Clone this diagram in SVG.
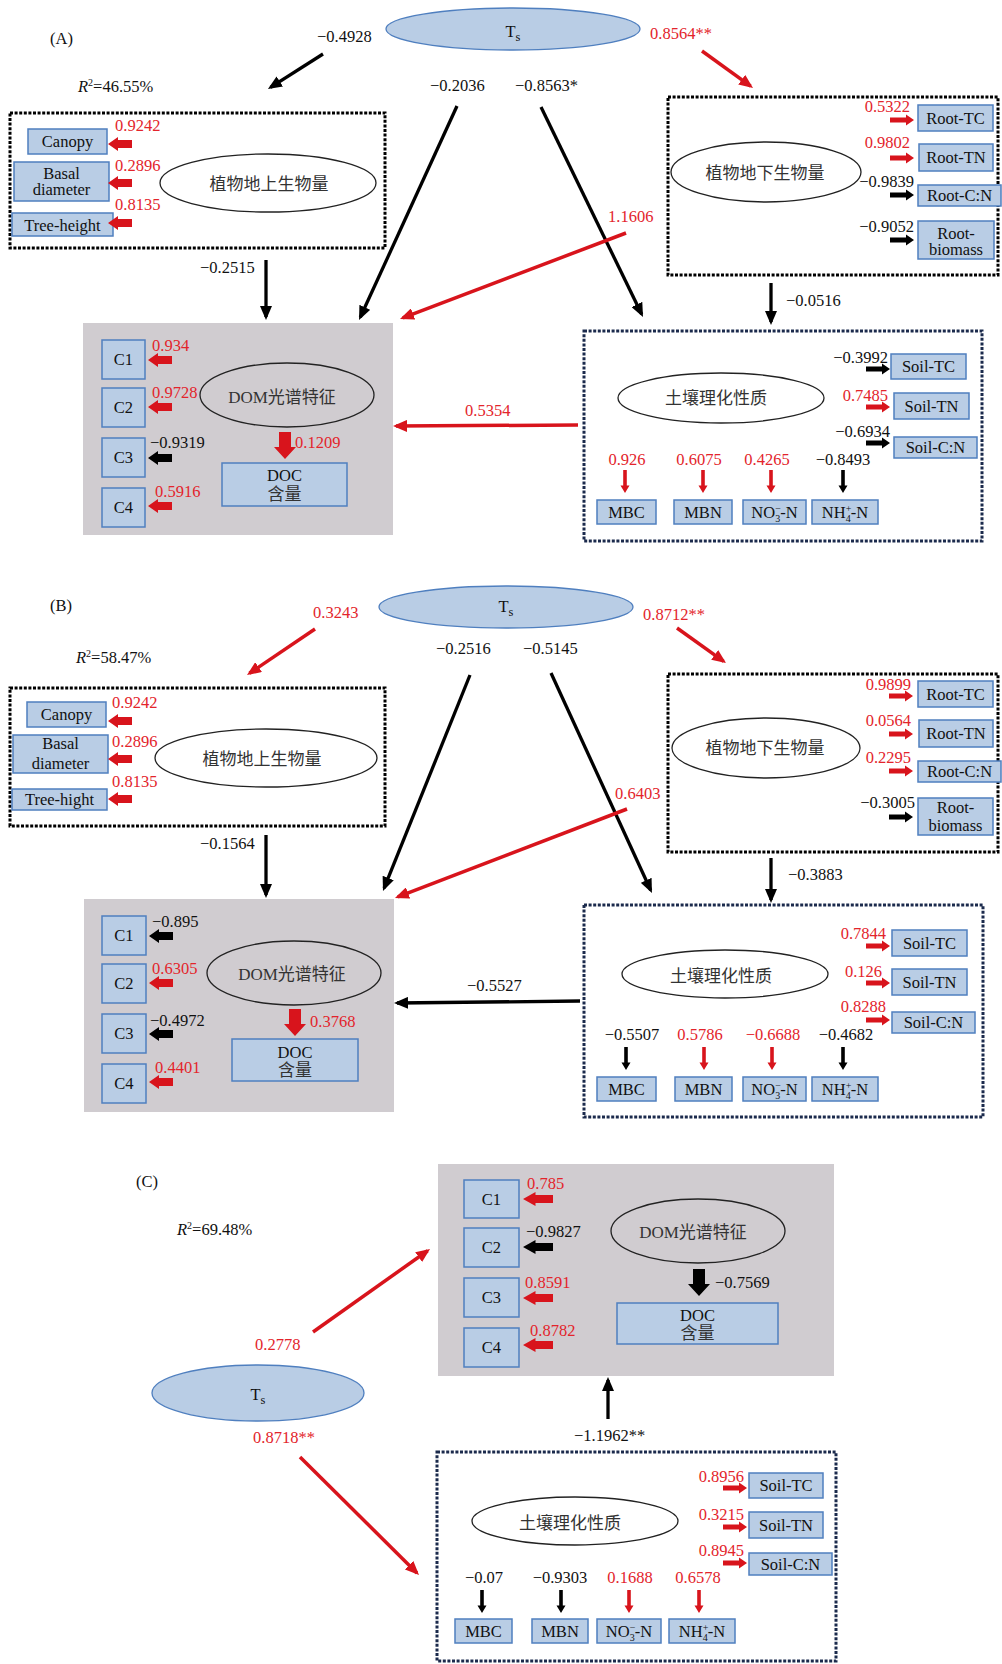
<svg xmlns="http://www.w3.org/2000/svg" xmlns:xlink="http://www.w3.org/1999/xlink" width="1002" height="1664" viewBox="0 0 1002 1664">
<style>
  text { font-family: "Liberation Serif", "Noto Sans CJK SC", serif; font-size: 16.5px; fill: #111; }
  .r { fill: #e3242b; }
  .cjk { font-size: 17px; fill: #333; }
  .m { text-anchor: middle; }
  .e { text-anchor: end; }
  .box { fill: #b9cde5; stroke: #4f7fbf; stroke-width: 1.5; }
  .gray { fill: #d0ccd0; }
  .dotk { fill: none; stroke: #000; stroke-width: 3; stroke-dasharray: 3 1.6; }
  .dotn { fill: none; stroke: #1b2a4c; stroke-width: 3; stroke-dasharray: 3 1.6; }
  .lv { fill: none; stroke: #222; stroke-width: 1.3; }
  .ts { fill: #b9cde5; stroke: #4f7fbf; stroke-width: 1.3; }
  .ck { fill: none; stroke: #000; stroke-width: 3.3; marker-end: url(#hk); }
  .cr { fill: none; stroke: #d8141c; stroke-width: 3.5; marker-end: url(#hr); }
  .fr { fill: #d8141c; }
  .fk { fill: #000; }
</style>
<defs>
  <marker id="hk" markerUnits="userSpaceOnUse" markerWidth="14" markerHeight="12" viewBox="0 0 14 12" refX="11" refY="6" orient="auto"><path d="M0,0 L14,6 L0,12 Z" fill="#000"/></marker>
  <marker id="hr" markerUnits="userSpaceOnUse" markerWidth="14" markerHeight="12" viewBox="0 0 14 12" refX="11" refY="6" orient="auto"><path d="M0,0 L14,6 L0,12 Z" fill="#d8141c"/></marker>
  <!-- block arrows, tip at origin -->
  <path id="bl" d="M0,0 L10,-7 L10,-4 L24,-4 L24,4 L10,4 L10,7 Z"/>
  <path id="br" d="M0,0 L-8,-5.5 L-8,-2.5 L-24,-2.5 L-24,2.5 L-8,2.5 L-8,5.5 Z"/>
  <path id="bd" d="M0,0 L-4.5,-7.5 L-1.8,-7.5 L-1.8,-23 L1.8,-23 L1.8,-7.5 L4.5,-7.5 Z"/>
  <path id="bD" d="M0,0 L-11,-12 L-6,-12 L-6,-27 L6,-27 L6,-12 L11,-12 Z"/>
</defs>
<rect width="1002" height="1664" fill="#fff"/>

<!-- ===================== Panel A ===================== -->
<text x="50" y="44">(A)</text>
<text x="78" y="92"><tspan font-style="italic">R</tspan><tspan dy="-6" font-size="10">2</tspan><tspan dy="6">=46.55%</tspan></text>

<g id="a-connectors">
  <line class="ck" x1="323" y1="54" x2="270.5" y2="87.4"/>
  <line class="cr" x1="702" y1="51" x2="750.6" y2="86.2"/>
  <line class="ck" x1="457" y1="106" x2="360.3" y2="317.3"/>
  <line class="ck" x1="541" y1="107" x2="641.7" y2="314.3"/>
  <line class="cr" x1="626" y1="233" x2="402.8" y2="317.9"/>
  <line class="ck" x1="266" y1="260" x2="266" y2="317"/>
  <line class="ck" x1="771" y1="283" x2="771" y2="322"/>
  <line class="cr" x1="578" y1="425" x2="396" y2="426"/>
  <text x="317" y="42">−0.4928</text>
  <text x="650" y="39" class="r">0.8564**</text>
  <text x="430" y="91">−0.2036</text>
  <text x="515" y="91">−0.8563*</text>
  <text x="608" y="222" class="r">1.1606</text>
  <text x="200" y="273">−0.2515</text>
  <text x="786" y="306">−0.0516</text>
  <text x="465" y="416" class="r">0.5354</text>
</g>

<g id="a-ts">
  <ellipse class="ts" cx="513" cy="29" rx="127" ry="21"/>
  <text x="513" y="37" class="m">T<tspan dy="4" font-size="12.5">s</tspan></text>
</g>

<g id="a-above">
  <rect class="dotk" x="10" y="113" width="375" height="135"/>
  <ellipse class="lv" cx="268" cy="183" rx="108" ry="29"/>
  <text x="269" y="190" class="m cjk">植物地上生物量</text>
  <rect class="box" x="28" y="129" width="79" height="25"/>
  <text x="67.5" y="147" class="m">Canopy</text>
  <rect class="box" x="14" y="162" width="95" height="39"/>
  <text x="61.5" y="178.5" class="m">Basal</text>
  <text x="61.5" y="194.5" class="m">diameter</text>
  <rect class="box" x="12" y="213" width="101" height="23"/>
  <text x="62.5" y="230.5" class="m">Tree-height</text>
  <use href="#bl" x="108" y="144" class="fr"/>
  <use href="#bl" x="108" y="183" class="fr"/>
  <use href="#bl" x="108" y="223" class="fr"/>
  <text x="115" y="131" class="r">0.9242</text>
  <text x="115" y="171" class="r">0.2896</text>
  <text x="115" y="210" class="r">0.8135</text>
</g>

<g id="a-below">
  <rect class="dotk" x="668" y="97" width="330" height="178"/>
  <ellipse class="lv" cx="766" cy="172" rx="95" ry="30"/>
  <text x="765" y="179" class="m cjk">植物地下生物量</text>
  <rect class="box" x="918" y="105" width="75" height="26"/>
  <text x="955.5" y="123.5" class="m">Root-TC</text>
  <rect class="box" x="919" y="144" width="74" height="27"/>
  <text x="956" y="163" class="m">Root-TN</text>
  <rect class="box" x="918" y="185" width="83" height="21"/>
  <text x="959.5" y="201" class="m">Root-C:N</text>
  <rect class="box" x="918" y="221" width="76" height="38"/>
  <text x="956" y="238.5" class="m">Root-</text>
  <text x="956" y="254.5" class="m">biomass</text>
  <use href="#br" x="914" y="120" class="fr"/>
  <use href="#br" x="914" y="158" class="fr"/>
  <use href="#br" x="914" y="195" class="fk"/>
  <use href="#br" x="914" y="240" class="fk"/>
  <text x="910" y="112" class="e r">0.5322</text>
  <text x="910" y="148" class="e r">0.9802</text>
  <text x="914" y="187" class="e">−0.9839</text>
  <text x="914" y="232" class="e">−0.9052</text>
</g>

<g id="a-dom">
  <rect class="gray" x="83" y="323" width="310" height="212"/>
  <rect class="box" x="102" y="340" width="43" height="39"/>
  <text x="123.5" y="365" class="m">C1</text>
  <rect class="box" x="102" y="388" width="43" height="39"/>
  <text x="123.5" y="413" class="m">C2</text>
  <rect class="box" x="102" y="438" width="43" height="39"/>
  <text x="123.5" y="463" class="m">C3</text>
  <rect class="box" x="102" y="488" width="43" height="39"/>
  <text x="123.5" y="513" class="m">C4</text>
  <use href="#bl" x="148" y="360" class="fr"/>
  <use href="#bl" x="148" y="407" class="fr"/>
  <use href="#bl" x="148" y="458" class="fk"/>
  <use href="#bl" x="148" y="506" class="fr"/>
  <text x="152" y="351" class="r">0.934</text>
  <text x="152" y="398" class="r">0.9728</text>
  <text x="150" y="448">−0.9319</text>
  <text x="155" y="497" class="r">0.5916</text>
  <ellipse class="lv" cx="287" cy="395" rx="87" ry="32"/>
  <text x="282" y="403" class="m cjk">DOM光谱特征</text>
  <use href="#bD" x="285" y="459" class="fr"/>
  <text x="295" y="448" class="r">0.1209</text>
  <rect class="box" x="222" y="463" width="125" height="43"/>
  <text x="284.5" y="480.5" class="m">DOC</text>
  <text x="284.5" y="500" class="m cjk">含量</text>
</g>

<g id="a-soil">
  <rect class="dotn" x="584" y="331" width="398" height="210"/>
  <ellipse class="lv" cx="721" cy="398" rx="103" ry="25"/>
  <text x="716" y="404" class="m cjk">土壤理化性质</text>
  <rect class="box" x="891" y="354" width="75" height="25"/>
  <text x="928.5" y="372" class="m">Soil-TC</text>
  <rect class="box" x="894" y="393" width="75" height="26"/>
  <text x="931.5" y="411.5" class="m">Soil-TN</text>
  <rect class="box" x="894" y="437" width="83" height="21"/>
  <text x="935.5" y="453" class="m">Soil-C:N</text>
  <use href="#br" x="890" y="369" class="fk"/>
  <use href="#br" x="890" y="407" class="fr"/>
  <use href="#br" x="890" y="443" class="fk"/>
  <text x="888" y="363" class="e">−0.3992</text>
  <text x="888" y="401" class="e r">0.7485</text>
  <text x="890" y="437" class="e">−0.6934</text>
  <text x="627" y="465" class="m r">0.926</text>
  <text x="699" y="465" class="m r">0.6075</text>
  <text x="767" y="465" class="m r">0.4265</text>
  <text x="843" y="465" class="m">−0.8493</text>
  <use href="#bd" x="625" y="493" class="fr"/>
  <use href="#bd" x="703" y="493" class="fr"/>
  <use href="#bd" x="771" y="493" class="fr"/>
  <use href="#bd" x="843" y="493" class="fk"/>
  <rect class="box" x="597" y="500" width="59" height="24"/>
  <text x="626.5" y="517.5" class="m">MBC</text>
  <rect class="box" x="674" y="500" width="58" height="24"/>
  <text x="703" y="517.5" class="m">MBN</text>
  <rect class="box" x="743" y="500" width="63" height="24"/>
  <text x="774.5" y="517.5" class="m">NO<tspan dy="-6" font-size="10">−</tspan><tspan dx="-5.6" dy="10" font-size="10">3</tspan><tspan dy="-4">-N</tspan></text>
  <rect class="box" x="812" y="500" width="66" height="24"/>
  <text x="845" y="517.5" class="m">NH<tspan dy="-6" font-size="10">+</tspan><tspan dx="-5.6" dy="10" font-size="10">4</tspan><tspan dy="-4">-N</tspan></text>
</g>

<!-- ===================== Panel B ===================== -->
<text x="50" y="611">(B)</text>
<text x="76" y="663"><tspan font-style="italic">R</tspan><tspan dy="-6" font-size="10">2</tspan><tspan dy="6">=58.47%</tspan></text>

<g id="b-connectors">
  <line class="cr" x1="315" y1="629" x2="249.5" y2="673.3"/>
  <line class="cr" x1="677" y1="628" x2="723.6" y2="661.3"/>
  <line class="ck" x1="470" y1="675" x2="384.1" y2="888.2"/>
  <line class="ck" x1="551" y1="673" x2="650.7" y2="890.3"/>
  <line class="cr" x1="627" y1="809" x2="397.8" y2="896.9"/>
  <line class="ck" x1="266" y1="835" x2="266" y2="895"/>
  <line class="ck" x1="771" y1="858" x2="771" y2="900"/>
  <line class="ck" x1="580" y1="1001" x2="397" y2="1003"/>
  <text x="313" y="618" class="r">0.3243</text>
  <text x="643" y="620" class="r">0.8712**</text>
  <text x="436" y="654">−0.2516</text>
  <text x="523" y="654">−0.5145</text>
  <text x="615" y="799" class="r">0.6403</text>
  <text x="200" y="849">−0.1564</text>
  <text x="788" y="880">−0.3883</text>
  <text x="467" y="991">−0.5527</text>
</g>

<g id="b-ts">
  <ellipse class="ts" cx="506" cy="607" rx="127" ry="21"/>
  <text x="506" y="612" class="m">T<tspan dy="4" font-size="12.5">s</tspan></text>
</g>

<g id="b-above">
  <rect class="dotk" x="10" y="688" width="375" height="138"/>
  <ellipse class="lv" cx="266" cy="758" rx="111" ry="29"/>
  <text x="262" y="765" class="m cjk">植物地上生物量</text>
  <rect class="box" x="27" y="702" width="79" height="25"/>
  <text x="66.5" y="720" class="m">Canopy</text>
  <rect class="box" x="13" y="735" width="95" height="38"/>
  <text x="60.5" y="748.5" class="m">Basal</text>
  <text x="60.5" y="768.5" class="m">diameter</text>
  <rect class="box" x="12" y="789" width="95" height="21"/>
  <text x="59.5" y="805" class="m">Tree-hight</text>
  <use href="#bl" x="108" y="721" class="fr"/>
  <use href="#bl" x="108" y="759" class="fr"/>
  <use href="#bl" x="108" y="799" class="fr"/>
  <text x="112" y="708" class="r">0.9242</text>
  <text x="112" y="747" class="r">0.2896</text>
  <text x="112" y="787" class="r">0.8135</text>
</g>

<g id="b-below">
  <rect class="dotk" x="668" y="674" width="330" height="178"/>
  <ellipse class="lv" cx="766" cy="748" rx="94" ry="30"/>
  <text x="765" y="754" class="m cjk">植物地下生物量</text>
  <rect class="box" x="918" y="681" width="75" height="26"/>
  <text x="955.5" y="699.5" class="m">Root-TC</text>
  <rect class="box" x="919" y="720" width="74" height="27"/>
  <text x="956" y="739" class="m">Root-TN</text>
  <rect class="box" x="918" y="761" width="83" height="21"/>
  <text x="959.5" y="777" class="m">Root-C:N</text>
  <rect class="box" x="918" y="798" width="75" height="37"/>
  <text x="955.5" y="812.5" class="m">Root-</text>
  <text x="955.5" y="830.5" class="m">biomass</text>
  <use href="#br" x="913" y="696" class="fr"/>
  <use href="#br" x="913" y="734" class="fr"/>
  <use href="#br" x="913" y="771" class="fr"/>
  <use href="#br" x="913" y="817" class="fk"/>
  <text x="911" y="690" class="e r">0.9899</text>
  <text x="911" y="726" class="e r">0.0564</text>
  <text x="911" y="763" class="e r">0.2295</text>
  <text x="915" y="808" class="e">−0.3005</text>
</g>

<g id="b-dom">
  <rect class="gray" x="84" y="899" width="310" height="213"/>
  <rect class="box" x="102" y="916" width="44" height="39"/>
  <text x="124" y="941" class="m">C1</text>
  <rect class="box" x="102" y="964" width="44" height="39"/>
  <text x="124" y="989" class="m">C2</text>
  <rect class="box" x="102" y="1014" width="44" height="39"/>
  <text x="124" y="1039" class="m">C3</text>
  <rect class="box" x="102" y="1064" width="44" height="39"/>
  <text x="124" y="1089" class="m">C4</text>
  <use href="#bl" x="149" y="936" class="fk"/>
  <use href="#bl" x="149" y="983" class="fr"/>
  <use href="#bl" x="149" y="1034" class="fk"/>
  <use href="#bl" x="149" y="1082" class="fr"/>
  <text x="152" y="927">−0.895</text>
  <text x="152" y="974" class="r">0.6305</text>
  <text x="150" y="1026">−0.4972</text>
  <text x="155" y="1073" class="r">0.4401</text>
  <ellipse class="lv" cx="294" cy="973" rx="87" ry="32"/>
  <text x="292" y="980" class="m cjk">DOM光谱特征</text>
  <use href="#bD" x="295" y="1036" class="fr"/>
  <text x="310" y="1027" class="r">0.3768</text>
  <rect class="box" x="232" y="1039" width="126" height="42"/>
  <text x="295" y="1057.5" class="m">DOC</text>
  <text x="295" y="1076" class="m cjk">含量</text>
</g>

<g id="b-soil">
  <rect class="dotn" x="584" y="905" width="399" height="212"/>
  <ellipse class="lv" cx="725" cy="974" rx="103" ry="24"/>
  <text x="721" y="982" class="m cjk">土壤理化性质</text>
  <rect class="box" x="892" y="930" width="75" height="26"/>
  <text x="929.5" y="948.5" class="m">Soil-TC</text>
  <rect class="box" x="892" y="969" width="75" height="26"/>
  <text x="929.5" y="987.5" class="m">Soil-TN</text>
  <rect class="box" x="892" y="1012" width="83" height="21"/>
  <text x="933.5" y="1028" class="m">Soil-C:N</text>
  <use href="#br" x="890" y="946" class="fr"/>
  <use href="#br" x="890" y="983" class="fr"/>
  <use href="#br" x="890" y="1020" class="fr"/>
  <text x="886" y="939" class="e r">0.7844</text>
  <text x="882" y="977" class="e r">0.126</text>
  <text x="886" y="1012" class="e r">0.8288</text>
  <text x="632" y="1040" class="m">−0.5507</text>
  <text x="700" y="1040" class="m r">0.5786</text>
  <text x="773" y="1040" class="m r">−0.6688</text>
  <text x="846" y="1040" class="m">−0.4682</text>
  <use href="#bd" x="626" y="1070" class="fk"/>
  <use href="#bd" x="704" y="1070" class="fr"/>
  <use href="#bd" x="772" y="1070" class="fr"/>
  <use href="#bd" x="843" y="1070" class="fk"/>
  <rect class="box" x="597" y="1077" width="59" height="24"/>
  <text x="626.5" y="1094.5" class="m">MBC</text>
  <rect class="box" x="675" y="1077" width="57" height="24"/>
  <text x="703.5" y="1094.5" class="m">MBN</text>
  <rect class="box" x="743" y="1077" width="63" height="24"/>
  <text x="774.5" y="1094.5" class="m">NO<tspan dy="-6" font-size="10">−</tspan><tspan dx="-5.6" dy="10" font-size="10">3</tspan><tspan dy="-4">-N</tspan></text>
  <rect class="box" x="812" y="1077" width="66" height="24"/>
  <text x="845" y="1094.5" class="m">NH<tspan dy="-6" font-size="10">+</tspan><tspan dx="-5.6" dy="10" font-size="10">4</tspan><tspan dy="-4">-N</tspan></text>
</g>

<!-- ===================== Panel C ===================== -->
<text x="136" y="1187">(C)</text>
<text x="177" y="1235"><tspan font-style="italic">R</tspan><tspan dy="-6" font-size="10">2</tspan><tspan dy="6">=69.48%</tspan></text>

<g id="c-connectors">
  <line class="cr" x1="313" y1="1332" x2="427.6" y2="1250.7"/>
  <line class="cr" x1="300" y1="1457" x2="416.9" y2="1572.9"/>
  <line class="ck" x1="608" y1="1419" x2="608" y2="1380"/>
  <text x="255" y="1350" class="r">0.2778</text>
  <text x="253" y="1443" class="r">0.8718**</text>
  <text x="574" y="1441">−1.1962**</text>
</g>

<g id="c-dom">
  <rect class="gray" x="438" y="1164" width="396" height="212"/>
  <rect class="box" x="464" y="1180" width="55" height="38"/>
  <text x="491.5" y="1204.5" class="m">C1</text>
  <rect class="box" x="464" y="1228" width="55" height="39"/>
  <text x="491.5" y="1253" class="m">C2</text>
  <rect class="box" x="464" y="1278" width="55" height="39"/>
  <text x="491.5" y="1303" class="m">C3</text>
  <rect class="box" x="464" y="1328" width="55" height="39"/>
  <text x="491.5" y="1353" class="m">C4</text>
  <use href="#bl" transform="translate(523,1199) scale(1.25,1)" class="fr"/>
  <use href="#bl" transform="translate(523,1247) scale(1.25,1)" class="fk"/>
  <use href="#bl" transform="translate(523,1298) scale(1.25,1)" class="fr"/>
  <use href="#bl" transform="translate(523,1345) scale(1.25,1)" class="fr"/>
  <text x="527" y="1189" class="r">0.785</text>
  <text x="526" y="1237">−0.9827</text>
  <text x="525" y="1288" class="r">0.8591</text>
  <text x="530" y="1336" class="r">0.8782</text>
  <ellipse class="lv" cx="698" cy="1231" rx="87" ry="32"/>
  <text x="693" y="1238" class="m cjk">DOM光谱特征</text>
  <use href="#bD" x="699" y="1296" class="fk"/>
  <text x="715" y="1288">−0.7569</text>
  <rect class="box" x="617" y="1303" width="161" height="41"/>
  <text x="697.5" y="1320.5" class="m">DOC</text>
  <text x="697.5" y="1339" class="m cjk">含量</text>
</g>

<g id="c-ts">
  <ellipse class="ts" cx="258" cy="1393" rx="106" ry="28"/>
  <text x="258" y="1400" class="m">T<tspan dy="4" font-size="12.5">s</tspan></text>
</g>

<g id="c-soil">
  <rect class="dotn" x="437" y="1452" width="399" height="209"/>
  <ellipse class="lv" cx="575" cy="1521" rx="103" ry="24"/>
  <text x="570" y="1529" class="m cjk">土壤理化性质</text>
  <rect class="box" x="749" y="1473" width="74" height="25"/>
  <text x="786" y="1491" class="m">Soil-TC</text>
  <rect class="box" x="749" y="1512" width="74" height="26"/>
  <text x="786" y="1530.5" class="m">Soil-TN</text>
  <rect class="box" x="749" y="1553" width="83" height="22"/>
  <text x="790.5" y="1569.5" class="m">Soil-C:N</text>
  <use href="#br" x="747" y="1488" class="fr"/>
  <use href="#br" x="747" y="1527" class="fr"/>
  <use href="#br" x="747" y="1563" class="fr"/>
  <text x="744" y="1482" class="e r">0.8956</text>
  <text x="744" y="1520" class="e r">0.3215</text>
  <text x="744" y="1556" class="e r">0.8945</text>
  <text x="484" y="1583" class="m">−0.07</text>
  <text x="560" y="1583" class="m">−0.9303</text>
  <text x="630" y="1583" class="m r">0.1688</text>
  <text x="698" y="1583" class="m r">0.6578</text>
  <use href="#bd" x="482" y="1613" class="fk"/>
  <use href="#bd" x="561" y="1613" class="fk"/>
  <use href="#bd" x="629" y="1613" class="fr"/>
  <use href="#bd" x="699" y="1613" class="fr"/>
  <rect class="box" x="455" y="1619" width="57" height="24"/>
  <text x="483.5" y="1636.5" class="m">MBC</text>
  <rect class="box" x="532" y="1619" width="56" height="24"/>
  <text x="560" y="1636.5" class="m">MBN</text>
  <rect class="box" x="597" y="1619" width="64" height="24"/>
  <text x="629" y="1636.5" class="m">NO<tspan dy="-6" font-size="10">−</tspan><tspan dx="-5.6" dy="10" font-size="10">3</tspan><tspan dy="-4">-N</tspan></text>
  <rect class="box" x="669" y="1619" width="66" height="24"/>
  <text x="702" y="1636.5" class="m">NH<tspan dy="-6" font-size="10">+</tspan><tspan dx="-5.6" dy="10" font-size="10">4</tspan><tspan dy="-4">-N</tspan></text>
</g>
</svg>
